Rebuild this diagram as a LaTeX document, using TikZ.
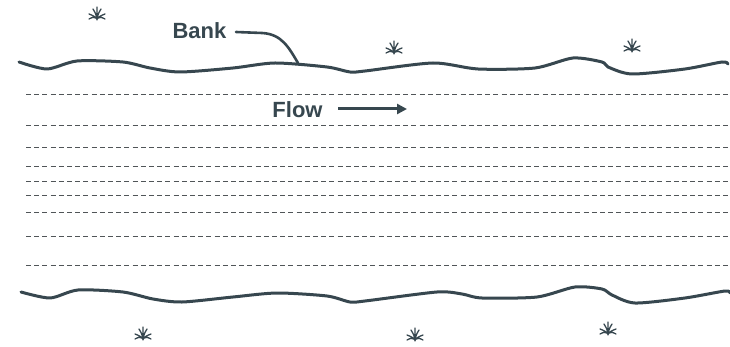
\documentclass[tikz,border=0pt]{standalone}
\usepackage{fontspec}
\setmainfont{Liberation Sans}
\usetikzlibrary{arrows.meta}
\definecolor{ink}{HTML}{37474F}
\definecolor{dash}{HTML}{505558}
\tikzset{
  bankline/.style={draw=ink, line width=3pt, line cap=round, line join=round},
  waterline/.style={draw=dash, line width=0.9pt, dash pattern=on 5pt off 3.2pt},
  lbl/.style={text=ink, font=\fontsize{22}{24}\selectfont\bfseries, inner sep=0pt, anchor=base},
  leader/.style={draw=ink, line width=2.6pt, line cap=round},
  tuft/.pic={
    \draw[ink, line width=1.3pt, line cap=round]
      (0,0) -- (0,-13)
      (0,0) .. controls (-1,-6) .. (-4,-11)
      (0,0) .. controls (1,-6) .. (4,-11)
      (0,-1) .. controls (-3,-4) .. (-8,-6)
      (0,-1) .. controls (3,-4) .. (8,-6)
      (-1,-2) .. controls (-4,-3) .. (-8,-1)
      (1,-2) .. controls (4,-3) .. (8,-1);
  }
}
\begin{document}
\begin{tikzpicture}[x=1pt,y=-1pt]
\useasboundingbox (0,0) rectangle (730,347);
% water lines
\foreach \yy in {94,125,147,166,181,195,212,236,265}
  \draw[waterline] (26,\yy) -- (728,\yy);
% banks
\draw[bankline] plot[smooth, tension=0.45] coordinates {
  (19,62) (47,69) (77,61) (123,62) (150,68) (180,72) (233,68) (275,63)
  (327,67) (350,72) (365,71) (433,63) (478,69) (535,68) (573,58) (602,62)
  (608,67) (632,74) (685,69) (722,62) (728,64)};
\draw[bankline] plot[smooth, tension=0.45] coordinates {
  (21,292) (50,298) (78,290) (123,292) (153,299) (182,302) (233,297) (277,293)
  (327,296) (350,302) (365,301) (437,292) (462,294) (482,298) (537,297) (575,287)
  (602,289) (612,295) (635,303) (685,298) (725,291) (730,293)};
% labels
\node[lbl] (bank) at (199.5,39) {Bank};
\node[lbl] (flow) at (297.5,118) {Flow};
\coordinate (bankstart) at (236,32);
\coordinate (bankbend) at (262,33);
\coordinate (bankpt) at (298,63);
\coordinate (flowstart) at (338,109);
\coordinate (flowend) at (407,109);
\draw[leader] (bankstart) -- (bankbend)
  .. controls (282,34) and (289,48) .. (bankpt);
\draw[draw=ink, line width=3pt, -{Triangle[length=10pt,width=10pt]}] (flowstart) -- (flowend);
% grass tufts
\pic at (97,20) {tuft};
\pic at (394,54) {tuft};
\pic at (632,52) {tuft};
\pic at (143,340) {tuft};
\pic at (415,341) {tuft};
\pic at (608,335) {tuft};
\end{tikzpicture}
\end{document}
